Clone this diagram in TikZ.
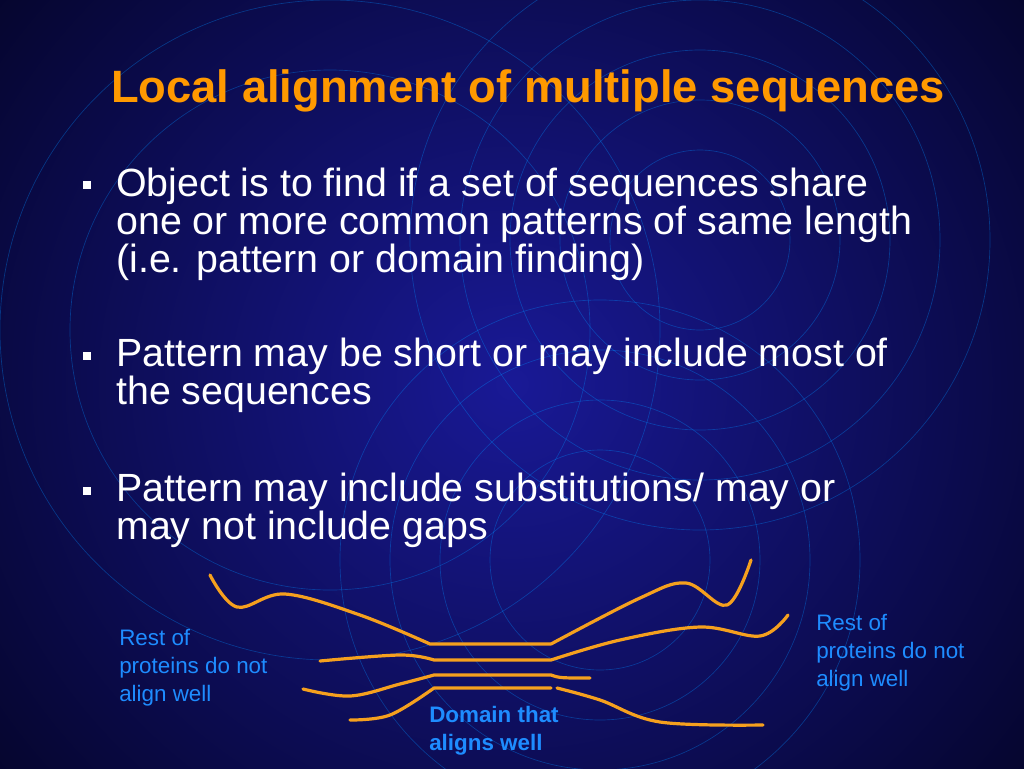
\documentclass[tikz,border=0pt]{standalone}
\usepackage{fontspec}
\setmainfont{Liberation Sans}
\definecolor{titleorange}{RGB}{255, 153, 0}
\definecolor{curveorange}{RGB}{245, 160, 30}
\definecolor{labelblue}{RGB}{30, 140, 255}
\definecolor{bgblue}{RGB}{25, 25, 150}
\definecolor{bgdark}{RGB}{5, 5, 45}
\usetikzlibrary{positioning}

\tikzset{
  bullettext/.style={anchor=north west, align=left, text=white, font=\fontsize{29.5}{28.5}\selectfont, inner sep=0pt},
  bulletmark/.style={fill=white, minimum size=5.5pt, inner sep=0pt},
  sideblue/.style={anchor=north west, align=left, text=labelblue, font=\fontsize{16.8}{21}\selectfont, inner sep=0pt},
  seqline/.style={curveorange, line width=2.4pt, line cap=round, line join=round},
  ring/.style={blue!45!cyan, opacity=0.35, line width=0.5pt}
}

\begin{document}
\begin{tikzpicture}[x=0.75pt, y=-0.75pt]
  \useasboundingbox (0,0) rectangle (1024,768);
  \begin{scope}
    \clip (0,0) rectangle (1024,768);
    % background
    \shade[inner color=bgblue, outer color=bgdark] (-150,-250) rectangle (1174,1018);
    % rings
    \foreach \r in {90,140,190,240,290} {
      \draw[ring] (700,240) circle (\r);
    }
    \foreach \r in {110,160,210,260} {
      \draw[ring] (600,560) circle (\r);
    }
    \foreach \r in {260,330} {
      \draw[ring] (330,330) circle (\r);
    }
  \end{scope}

  % title
  \node[text=titleorange, font=\fontsize{34}{38}\selectfont\bfseries] (title) at (528,91) {Local alignment of multiple sequences};

  % bullets
  \node[bullettext] (p1) at (116,168) {Object is to find if a set of sequences share\\one or more common patterns of same length\\(i.e. pattern or domain finding)};
  \node[bullettext] (p2) at (116,338) {Pattern may be short or may include most of\\the sequences};
  \node[bullettext] (p3) at (116,473) {Pattern may include substitutions/ may or\\may not include gaps};
  \node[bulletmark] (b1) at (87,185) {};
  \node[bulletmark] (b2) at (87,356) {};
  \node[bulletmark] (b3) at (87,491) {};

  % side labels
  \node[sideblue] (leftlbl) at (119,629) {Rest of\\proteins do not\\align well};
  \node[sideblue] (rightlbl) at (816,614) {Rest of\\proteins do not\\align well};
  \node[sideblue, font=\fontsize{16.8}{21}\selectfont\bfseries] (domain) at (429,706) {Domain that\\aligns well};

  % sequences
  \draw[seqline] plot[smooth, tension=0.6] coordinates {(210,575) (237,607) (285,594) (360,615) (430,644)}
    -- (551,644)
    plot[smooth, tension=0.6] coordinates {(551,644) (640,598) (686,583) (727,605) (751,560)};
  \draw[seqline] plot[smooth, tension=0.6] coordinates {(320,661) (400,655) (434,660)}
    -- (551,660)
    plot[smooth, tension=0.6] coordinates {(551,660) (620,640) (700,627) (760,636) (788,615)};
  \draw[seqline] plot[smooth, tension=0.6] coordinates {(303,689) (350,696) (400,684) (434,675)}
    -- (551,675) .. controls (560,678) .. (590,678);
  \draw[seqline] plot[smooth, tension=0.6] coordinates {(350,720) (390,715) (434,688)}
    -- (551,688);
  \draw[seqline] plot[smooth, tension=0.6] coordinates {(557,688) (600,700) (660,722) (763,725)};
\end{tikzpicture}
\end{document}
